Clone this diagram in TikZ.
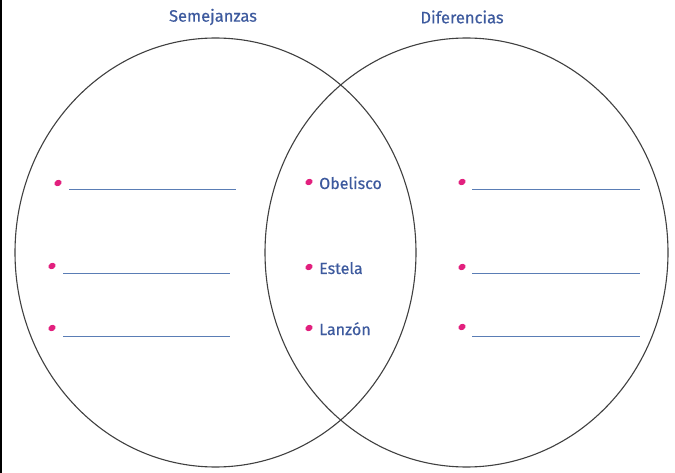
\documentclass[tikz,border=0pt]{standalone}
\usepackage{fontspec}
\setmainfont{Fira Sans}
\newfontfamily\lblfont{Fira Sans}[FakeBold=0.4]
\usetikzlibrary{shapes.geometric}
\definecolor{tblue}{HTML}{3D5A9E}
\definecolor{lblue}{HTML}{5A7DB5}
\definecolor{dotc}{HTML}{E2207E}
\begin{document}
\begin{tikzpicture}[x=1pt,y=-1pt,
  title/.style={text=tblue,font=\lblfont\fontsize{16.5}{18}\selectfont,inner sep=0pt},
  item/.style={text=tblue,font=\lblfont\fontsize{16}{18}\selectfont,anchor=base west,inner sep=0pt},
  bul/.style={fill=dotc,draw=none,ellipse,minimum width=7.5pt,minimum height=6pt,inner sep=0pt,rotate=30},
  blank/.style={draw=lblue,line width=1pt}]
\useasboundingbox (0,0) rectangle (675,473);
\fill[white] (0,0) rectangle (675,473);
\draw[line width=1.5pt] (1,0) -- (1,473);
\draw[black!75,line width=1.1pt] (215.5,252.5) ellipse [x radius=200.5, y radius=214.5];
\draw[black!75,line width=1.1pt] (466.5,252.5) ellipse [x radius=201.5, y radius=214.5];
\node[title] (t1) at (213,17) {Semejanzas};
\node[title] (t2) at (462,17) {Diferencias};
% left column
\foreach \bx/\by/\lx/\rx/\ly [count=\i] in {58/183/69/236/190, 52/266/63/230/274, 52/328/63/230/336}{
  \node[bul] (lb\i) at (\bx,\by) {};
  \coordinate (ls\i) at (\lx,\ly);
  \coordinate (le\i) at (\rx,\ly);
  \draw[blank] (ls\i) -- (le\i);
}
% right column
\foreach \bx/\by/\lx/\rx/\ly [count=\i] in {462/182/472/640/190, 462/267/472/640/274, 462/327/472/640/336}{
  \node[bul] (rb\i) at (\bx,\by) {};
  \coordinate (rs\i) at (\lx,\ly);
  \coordinate (re\i) at (\rx,\ly);
  \draw[blank] (rs\i) -- (re\i);
}
% middle
\node[bul] (m1) at (309,182) {};
\node[item] (o) at (319,189) {Obelisco};
\node[bul] (m2) at (309,267) {};
\node[item] (e) at (319,274) {Estela};
\node[bul] (m3) at (309,328) {};
\node[item] (l) at (319,335) {Lanzón};
\end{tikzpicture}
\end{document}
